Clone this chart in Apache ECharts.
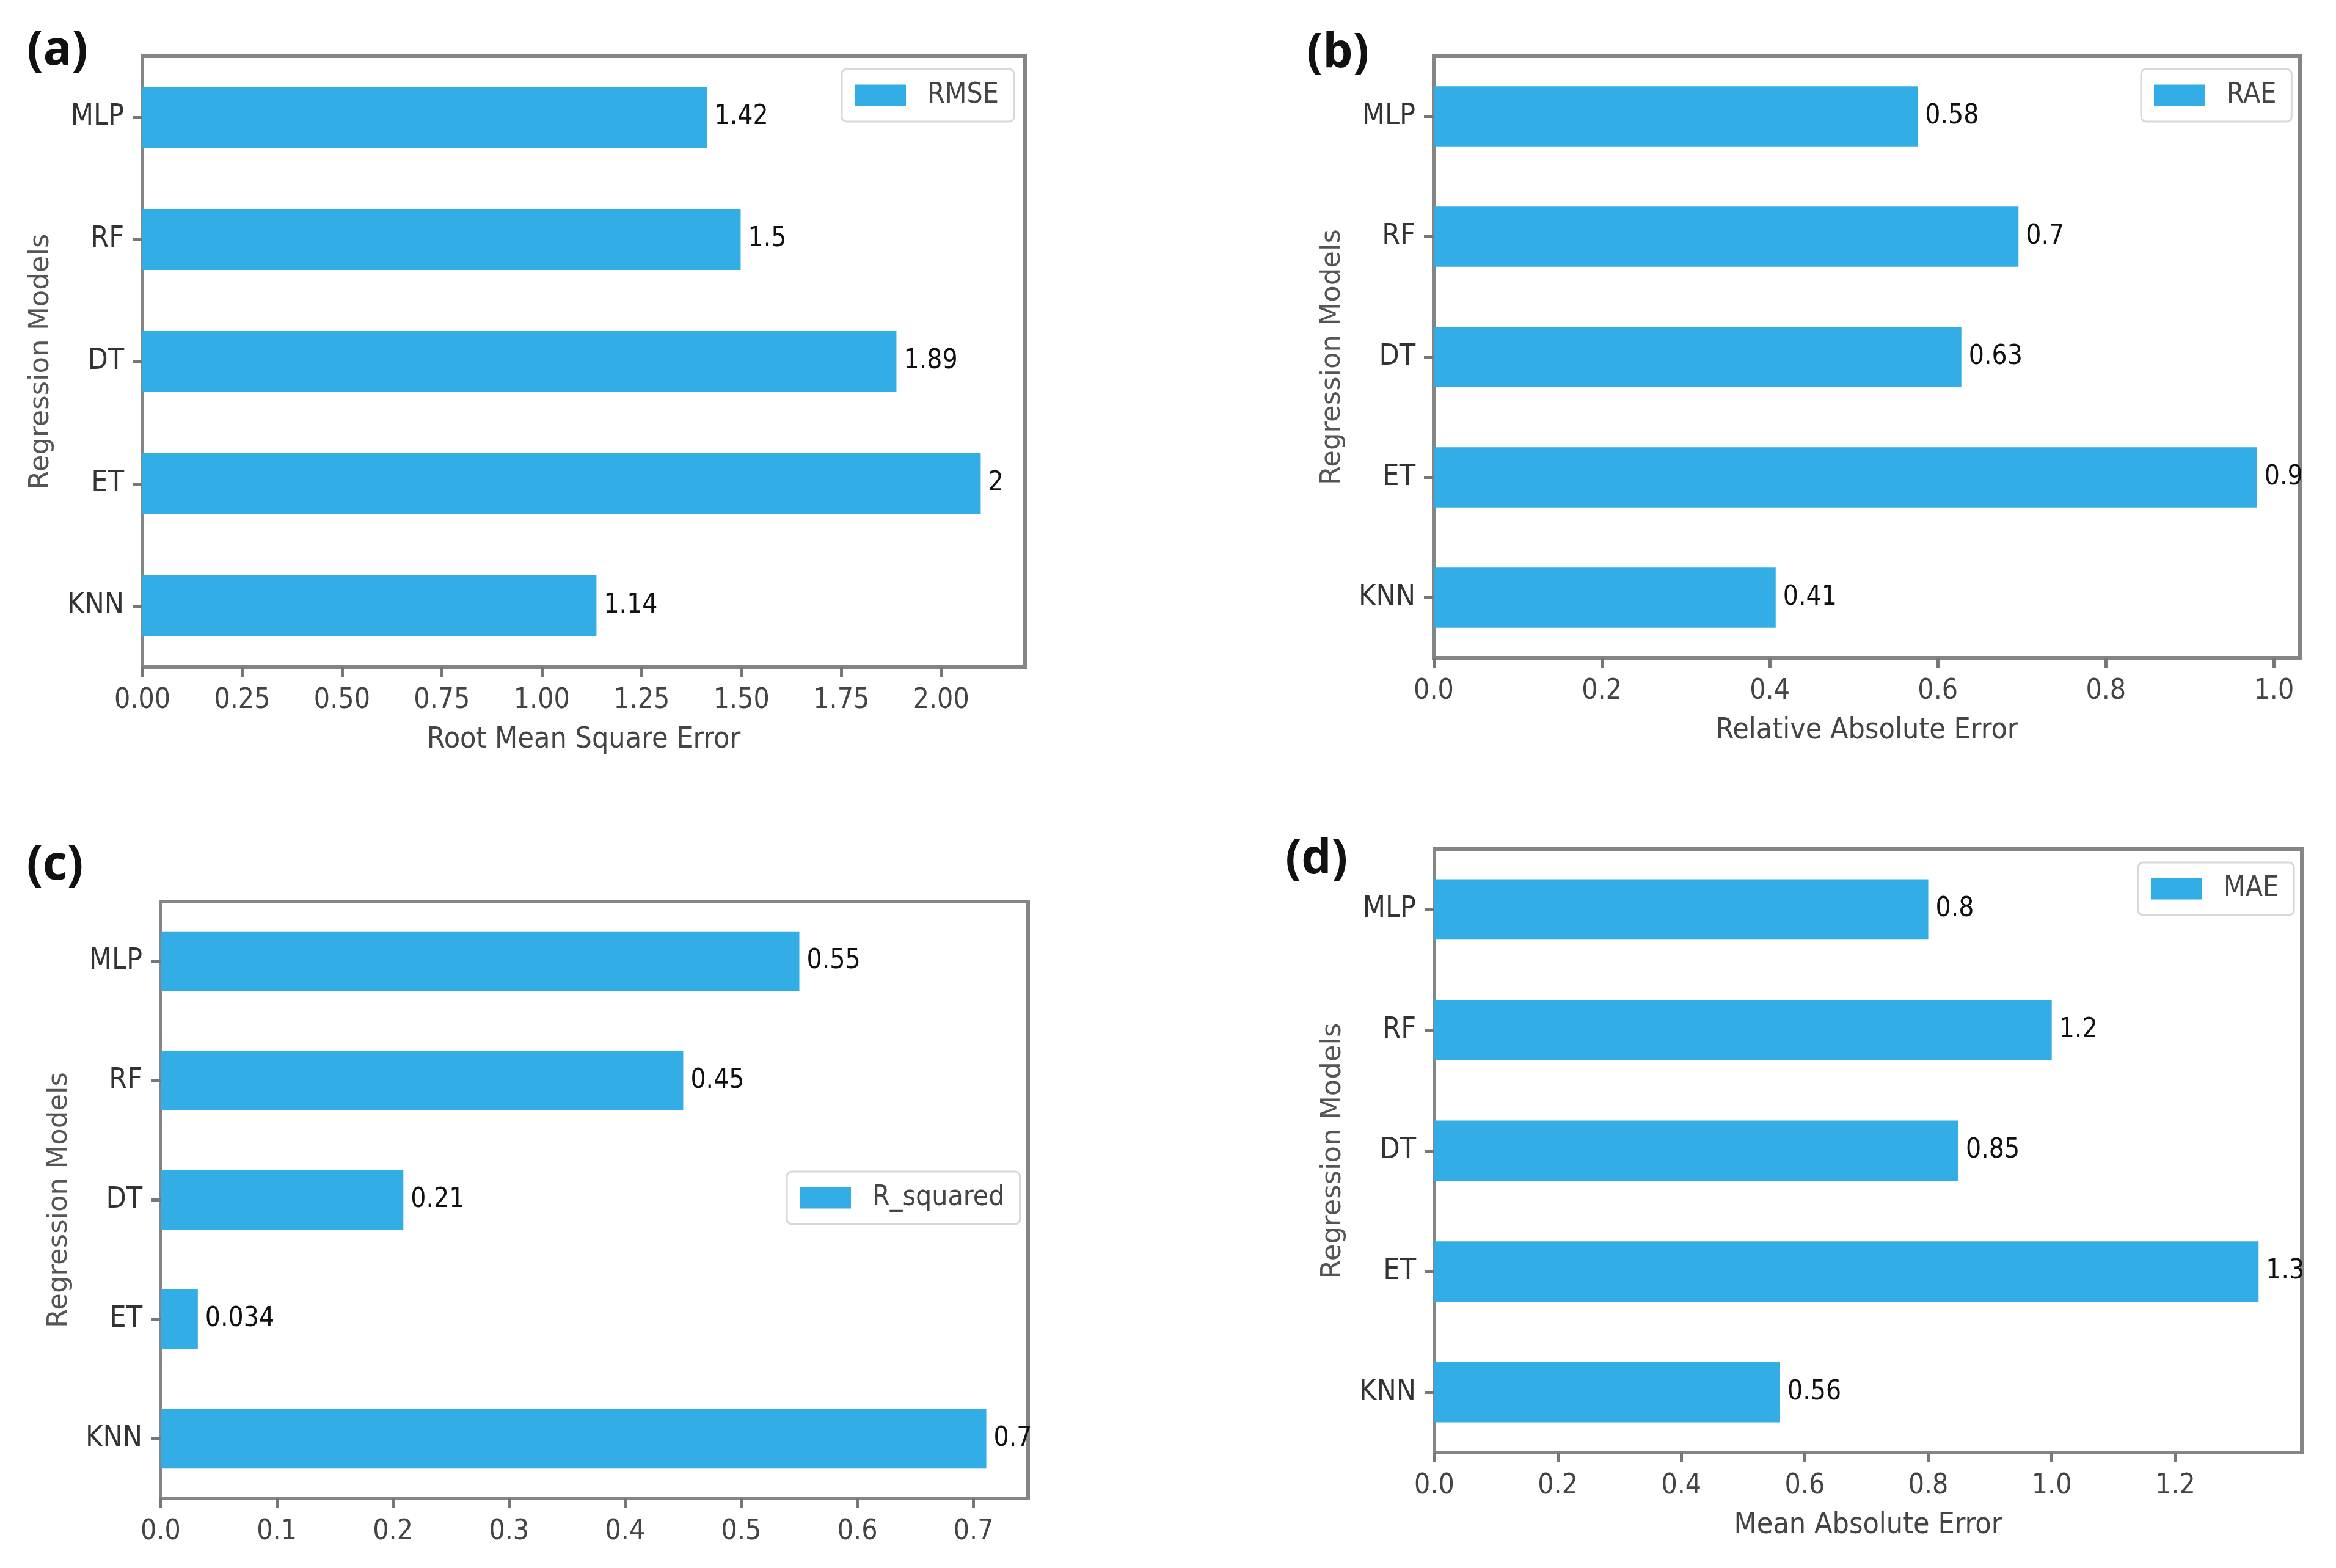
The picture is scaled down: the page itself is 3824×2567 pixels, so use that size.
<!DOCTYPE html>
<html>
<head>
<meta charset="utf-8">
<script src="https://cdn.jsdelivr.net/npm/echarts@6/dist/echarts.min.js"></script>
<style>
html,body{margin:0;padding:0;background:#fff;}
#chart{width:3824px;height:2567px;}
</style>
</head>
<body>
<div id="chart"></div>
<script>
// ---- data ----
const categories = ['KNN', 'ET', 'DT', 'RF', 'MLP'];

const rmseValues = [1.137, 2.099, 1.888, 1.498, 1.414];
const rmseLabels = ['1.14', '2', '1.89', '1.5', '1.42'];
const rmseTicks = [0, 0.25, 0.5, 0.75, 1.0, 1.25, 1.5, 1.75, 2.0];

const raeValues = [0.407, 0.98, 0.628, 0.696, 0.576];
const raeLabels = ['0.41', '0.9', '0.63', '0.7', '0.58'];
const raeTicks = [0, 0.2, 0.4, 0.6, 0.8, 1.0];

const r2Values = [0.711, 0.032, 0.209, 0.45, 0.55];
const r2Labels = ['0.7', '0.034', '0.21', '0.45', '0.55'];
const r2Ticks = [0, 0.1, 0.2, 0.3, 0.4, 0.5, 0.6, 0.7];

const maeValues = [0.56, 1.335, 0.849, 1.0, 0.80];
const maeLabels = ['0.56', '1.3', '0.85', '1.2', '0.8'];
const maeTicks = [0, 0.2, 0.4, 0.6, 0.8, 1.0, 1.2];

const panelNames = ['(a)', '(b)', '(c)', '(d)'];
const seriesNames = ['RMSE', 'RAE', 'R_squared', 'MAE'];
const xTitles = ['Root Mean Square Error', 'Relative Absolute Error', '', 'Mean Absolute Error'];
const yTitle = 'Regression Models';

// ---- layout / style ----
const NARROW = "'Liberation Sans Narrow', 'DejaVu Sans Condensed', sans-serif";
const BAR = '#33ADE6';
const FRAME = '#858585';

const panels = [
  {grid: {left: 233, top: 92, width: 1678 - 233, height: 1092 - 92}, max: 2.21, dec: 2,
   values: rmseValues, labels: rmseLabels, ticks: rmseTicks,
   legend: {left: 1378, top: 113}, tag: {x: 94, y: 84}},
  {grid: {left: 2347, top: 92, width: 3765 - 2347, height: 1077 - 92}, max: 1.031, dec: 1,
   values: raeValues, labels: raeLabels, ticks: raeTicks,
   legend: {left: 3505, top: 113}, tag: {x: 2190, y: 88}},
  {grid: {left: 263, top: 1476, width: 1683 - 263, height: 2453 - 1476}, max: 0.747, dec: 1,
   values: r2Values, labels: r2Labels, ticks: r2Ticks,
   legend: {left: 1288, top: 1918}, tag: {x: 90, y: 1418}},
  {grid: {left: 2348, top: 1390, width: 3768 - 2348, height: 2378 - 1390}, max: 1.405, dec: 1,
   values: maeValues, labels: maeLabels, ticks: maeTicks,
   legend: {left: 3500, top: 1412}, tag: {x: 2155, y: 1408}}
];

const grids = [], xAxes = [], yAxes = [], series = [], legends = [], graphics = [];

panels.forEach((p, i) => {
  grids.push(Object.assign({show: true, borderColor: FRAME, borderWidth: 6, backgroundColor: '#fff'}, p.grid));
  xAxes.push({
    type: 'value', gridIndex: i, min: 0, max: p.max,
    name: xTitles[i], nameLocation: 'middle', nameGap: 96,
    nameTextStyle: {fontFamily: NARROW, fontSize: 48, color: '#444'},
    axisLine: {show: false},
    splitLine: {show: false},
    axisTick: {show: true, length: 16, customValues: p.ticks, lineStyle: {color: '#777', width: 5}},
    axisLabel: {show: true, customValues: p.ticks, margin: 32, fontFamily: NARROW, fontSize: 46, color: '#444',
      formatter: (v => (v).toFixed(p.dec))}
  });
  yAxes.push({
    type: 'category', gridIndex: i, data: categories,
    name: yTitle, nameLocation: 'middle', nameGap: 143, nameRotate: 90,
    nameTextStyle: {fontFamily: "'DejaVu Sans', sans-serif", fontSize: 45, color: '#555'},
    axisLine: {show: false},
    axisTick: {show: true, alignWithLabel: true, length: 16, lineStyle: {color: '#777', width: 5}},
    axisLabel: {margin: 30, fontFamily: NARROW, fontSize: 48, color: '#333'}
  });
  series.push({
    type: 'bar', name: seriesNames[i], xAxisIndex: i, yAxisIndex: i,
    data: p.values, barWidth: '50%',
    itemStyle: {color: BAR},
    label: {show: true, position: 'right', distance: 12, fontFamily: NARROW, fontSize: 44, color: '#111',
      formatter: (params => p.labels[params.dataIndex])}
  });
  legends.push({
    data: [seriesNames[i]], left: p.legend.left, top: p.legend.top,
    orient: 'vertical', icon: 'rect', itemWidth: 84, itemHeight: 35,
    padding: [20, 25, 20, 21], borderColor: '#d8d8d8', borderWidth: 3, borderRadius: 8,
    backgroundColor: '#fff', selectedMode: false,
    textStyle: {fontFamily: NARROW, fontSize: 46, color: '#444', padding: [0, 0, 0, 30]}
  });
  graphics.push({
    type: 'text', x: p.tag.x, y: p.tag.y, z: 100,
    style: {text: panelNames[i], fontFamily: "'Open Sans', sans-serif", fontWeight: 'bold', fontSize: 78,
      fill: '#111', align: 'center', verticalAlign: 'middle'}
  });
});

const chart = echarts.init(document.getElementById('chart'), null, {renderer: 'canvas'});
chart.setOption({
  backgroundColor: '#fff',
  animation: false,
  grid: grids,
  xAxis: xAxes,
  yAxis: yAxes,
  legend: legends,
  series: series,
  graphic: graphics
});
</script>
</body>
</html>
